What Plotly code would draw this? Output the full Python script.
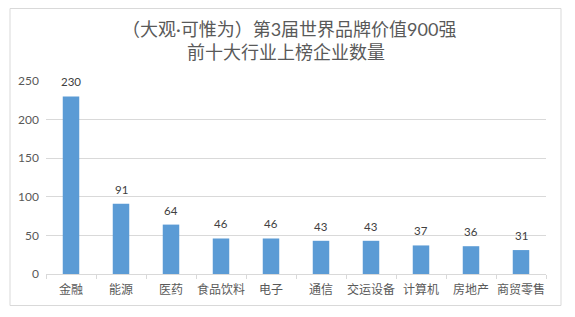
import plotly.graph_objects as go

categories = ["金融", "能源", "医药", "食品饮料", "电子", "通信", "交运设备", "计算机", "房地产", "商贸零售"]
values = [230, 91, 64, 46, 46, 43, 43, 37, 36, 31]
y_ticks = [0, 50, 100, 150, 200, 250]
title_lines = ["（大观·可惟为）第3届世界品牌价值900强", "前十大行业上榜企业数量"]

FONT = "Lato, Noto Sans CJK SC, sans-serif"
L, R, T, B = 46, 29, 81, 43
W, H = 575, 317
pw, ph = W - L - R, H - T - B

fig = go.Figure(go.Bar(
    x=categories, y=values,
    marker=dict(color="#5b9bd5", line=dict(width=0)),
    width=0.33, hoverinfo="x+y",
))

def px_x(px):
    return (px - L) / pw

def px_y(py):
    return (H - B - py) / ph

annotations = [
    dict(text=str(v), x=c, y=v, xref="x", yref="y", showarrow=False,
         xanchor="center", yanchor="bottom", yshift=6,
         font=dict(size=11.5, color="#404040", family=FONT))
    for c, v in zip(categories, values)
]
annotations += [
    dict(text=title_lines[0], x=px_x(289), y=px_y(29), xref="paper", yref="paper",
         showarrow=False, xanchor="center", yanchor="middle",
         font=dict(size=18, color="#595959", family=FONT)),
    dict(text=title_lines[1], x=px_x(286), y=px_y(52), xref="paper", yref="paper",
         showarrow=False, xanchor="center", yanchor="middle",
         font=dict(size=18, color="#595959", family=FONT)),
]

fig.update_layout(
    width=W, height=H,
    margin=dict(l=L, r=R, t=T, b=B, autoexpand=False),
    paper_bgcolor="white", plot_bgcolor="white",
    font=dict(family=FONT, color="#595959"),
    showlegend=False,
    xaxis=dict(
        type="category", showgrid=False, showline=True, linecolor="#d9d9d9", linewidth=1,
        ticks="outside", tickson="boundaries", ticklen=4, tickcolor="#d9d9d9",
        tickangle=0, automargin=False, ticklabelstandoff=5,
        tickfont=dict(size=12, color="#595959", family="Noto Sans CJK SC"),
    ),
    yaxis=dict(
        range=[0, 250], tickvals=y_ticks, showgrid=True, gridcolor="#d9d9d9", gridwidth=1,
        zeroline=False, showline=False, ticks="", automargin=False,
        tickfont=dict(size=12, color="#595959", family=FONT), ticklabelstandoff=6,
    ),
    shapes=[dict(type="rect", xref="paper", yref="paper",
                 x0=px_x(10), x1=px_x(561), y0=px_y(305.5), y1=px_y(8.5),
                 line=dict(color="#d9d9d9", width=1), fillcolor="rgba(0,0,0,0)", layer="below")],
    annotations=annotations,
)

fig.write_html("out.html")
